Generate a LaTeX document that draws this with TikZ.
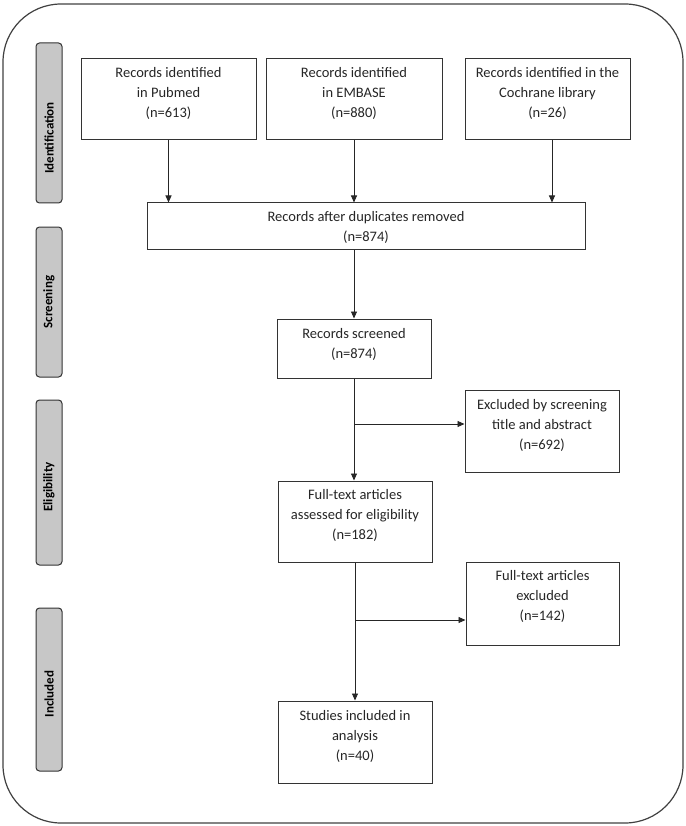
\documentclass[tikz,border=0pt]{standalone}
\usepackage{fontspec}
\setmainfont{Carlito}
\usetikzlibrary{arrows.meta}
\tikzset{
  frame/.style={draw=black!75, line width=1.2pt, rounded corners=58pt, inner sep=0pt},
  box/.style={draw=black!80, line width=1pt, fill=white, inner sep=0pt},
  btext/.style={align=center, font=\fontsize{14.5}{20}\selectfont, text=black!85, inner sep=0pt},
  phase/.style={draw=black!80, line width=1pt, fill=black!22, rounded corners=3.5pt, inner sep=0pt, minimum width=26pt},
  ptext/.style={rotate=90, font=\fontsize{13}{14}\selectfont\bfseries, text=black, inner sep=0pt},
  arr/.style={draw=black!85, line width=0.9pt, -{Triangle[length=7pt,width=6pt]}},
  ln/.style={draw=black!85, line width=0.9pt}
}
\begin{document}
\begin{tikzpicture}[x=1pt, y=-1pt]
\useasboundingbox (0,0) rectangle (685,826);
% outer frame
\node[frame, minimum width=680pt, minimum height=819pt] (frm) at (343,413.5) {};

% phase bars
\node[phase, minimum height=160pt] (ph1) at (49,123) {};
\node[ptext] (ph1t) at (49,138) {Identification};
\node[phase, minimum height=150pt] (ph2) at (49,302) {};
\node[ptext] (ph2t) at (49,302) {Screening};
\node[phase, minimum height=165pt] (ph3) at (49,482.5) {};
\node[ptext] (ph3t) at (49,487) {Eligibility};
\node[phase, minimum height=163pt] (ph4) at (49,689.5) {};
\node[ptext] (ph4t) at (49,694) {Included};

% boxes
\node[box, minimum width=175pt, minimum height=81pt] (pub) at (168.5,99.5) {};
\node[btext] (pubt) at (168.5,93) {Records identified\\in Pubmed\\(n=613)};
\node[box, minimum width=176pt, minimum height=81pt] (emb) at (354,99.5) {};
\node[btext] (embt) at (354,93) {Records identified\\in EMBASE\\(n=880)};
\node[box, minimum width=165pt, minimum height=81pt] (coc) at (547.5,99.5) {};
\node[btext] (coct) at (547.5,93) {Records identified in the\\Cochrane library\\(n=26)};

\node[box, minimum width=438pt, minimum height=46pt] (dup) at (366,226) {};
\node[btext] (dupt) at (366,227) {Records after duplicates removed\\(n=874)};

\node[box, minimum width=154pt, minimum height=59pt] (scr) at (354,348.5) {};
\node[btext] (scrt) at (354,344) {Records screened\\(n=874)};

\node[box, minimum width=154pt, minimum height=82pt] (ex1) at (542,431) {};
\node[btext] (ex1t) at (542,425) {Excluded by screening\\title and abstract\\(n=692)};

\node[box, minimum width=154pt, minimum height=81pt] (ful) at (355,521.5) {};
\node[btext] (fult) at (355,515.5) {Full-text articles\\assessed for eligibility\\(n=182)};

\node[box, minimum width=153pt, minimum height=83pt] (ex2) at (542.5,603.5) {};
\node[btext] (ex2t) at (542.5,596) {Full-text articles\\excluded\\(n=142)};

\node[box, minimum width=154pt, minimum height=82pt] (stu) at (355,742) {};
\node[btext] (stut) at (355,736) {Studies included in\\analysis\\(n=40)};

% connectors
\draw[arr] (pub.south) -- (pub.south |- dup.north);
\draw[arr] (emb.south) -- (emb.south |- dup.north);
\draw[arr] ([xshift=4.5pt]coc.south) -- ([xshift=4.5pt]coc.south |- dup.north);
\draw[arr] (dup.south -| scr.north) -- (scr.north);
\draw[arr] (scr.south) -- (scr.south |- ful.north);
\coordinate (b1) at (354,424);
\draw[arr] (b1) -- (b1 -| ex1.west);
\draw[arr] (ful.south) -- (stu.north);
\coordinate (b2) at (355,620);
\draw[arr] (b2) -- (b2 -| ex2.west);
\end{tikzpicture}
\end{document}
